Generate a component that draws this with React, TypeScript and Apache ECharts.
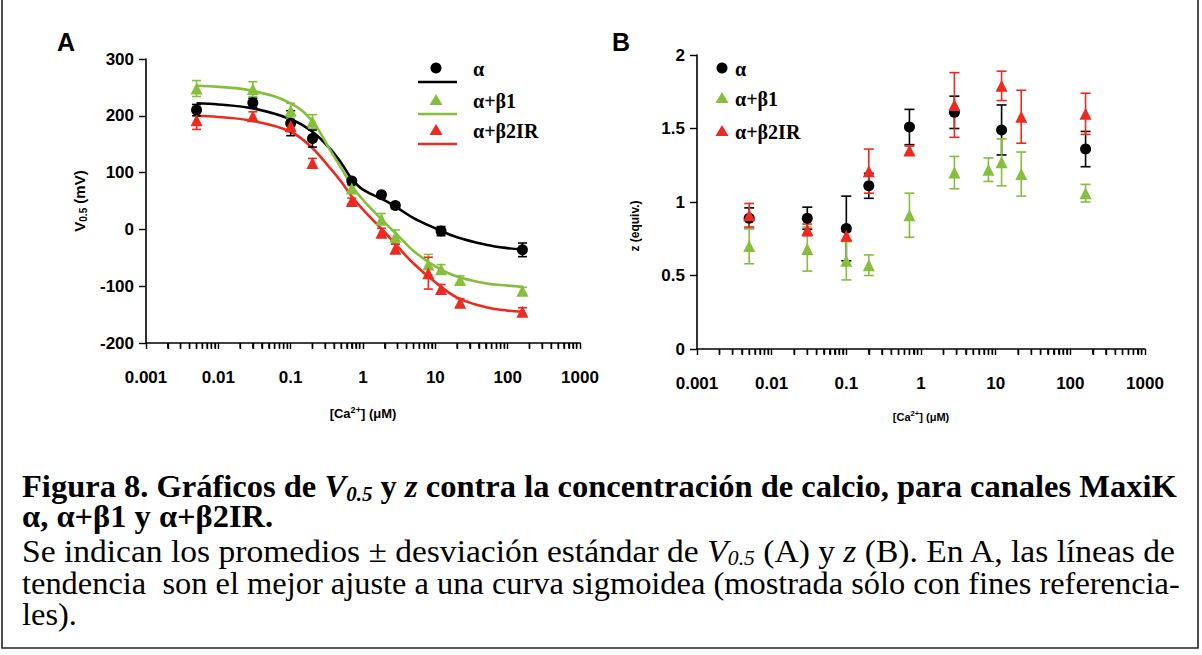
import React, { useEffect, useRef } from "react";
import * as echarts from "echarts";

const BLACK = "#000000";
const GREEN = "#86bf3c";
const RED = "#ee2a20";

// ---------- Panel A: V0.5 (mV) vs [Ca2+] ----------
const concA_alpha = [0.005, 0.03, 0.1, 0.2, 0.7, 1.8, 2.8, 12, 160];
const vA_alpha = [210, 223, 187, 160, 85, 61, 42, -3, -36];
const eA_alpha = [10, 8, 22, 15, 5, 5, 5, 8, 12];

const concA_beta = [0.005, 0.03, 0.1, 0.2, 0.7, 1.8, 2.8, 8, 12, 22, 160];
const vA_beta1 = [248, 247, 209, 190, 72, 18, -13, -62, -70, -89, -108];
const eA_beta1 = [14, 13, 13, 12, 5, 10, 12, 18, 8, 7, 6];
const vA_beta2 = [192, 199, 182, 117, 50, -6, -34, -77, -105, -129, -145];
const eA_beta2 = [16, 8, 10, 8, 5, 8, 8, 28, 8, 7, 7];

// fitted sigmoid trend lines
const curveX = [0.005, 0.01, 0.03, 0.1, 0.2, 0.35, 0.5, 0.7, 1, 2, 3, 5, 10, 20, 50, 100, 160];
const curveAlpha = [222, 220, 213, 194, 172, 142, 117, 89, 70, 51, 38, 20, 2, -14, -27, -33, -35];
const curveBeta1 = [253, 251, 244, 222, 190, 140, 108, 77, 52, 12, -10, -38, -65, -83, -95, -99, -101];
const curveBeta2 = [200, 198, 191, 172, 143, 108, 84, 58, 35, -5, -30, -60, -93, -120, -137, -143, -145];

// ---------- Panel B: z (equiv.) vs [Ca2+] ----------
const concB_alpha = [0.005, 0.03, 0.1, 0.2, 0.7, 2.8, 12, 160];
const zB_alpha = [0.89, 0.89, 0.82, 1.11, 1.51, 1.61, 1.49, 1.36];
const eB_alpha = [0.07, 0.075, 0.22, 0.085, 0.12, 0.11, 0.17, 0.12];

const concB_beta1 = [0.005, 0.03, 0.1, 0.2, 0.7, 2.8, 8, 12, 22, 160];
const zB_beta1 = [0.7, 0.68, 0.6, 0.57, 0.91, 1.2, 1.22, 1.27, 1.19, 1.06];
const eB_beta1 = [0.12, 0.15, 0.13, 0.07, 0.15, 0.11, 0.08, 0.16, 0.15, 0.06];

const concB_beta2 = [0.005, 0.03, 0.1, 0.2, 0.7, 2.8, 12, 22, 160];
const zB_beta2 = [0.91, 0.81, 0.77, 1.21, 1.35, 1.66, 1.79, 1.58, 1.6];
const eB_beta2 = [0.08, 0.04, 0.03, 0.15, 0.03, 0.22, 0.1, 0.18, 0.14];

// ---------- axes ----------
const xTickLabels = ["0.001", "0.01", "0.1", "1", "10", "100", "1000"];
const majorTickValues = [0.001, 0.01, 0.1, 1, 10, 100, 1000];
const minorMultipliers = [2, 3, 4, 5, 6, 7, 8, 9];
const decades = [0.001, 0.01, 0.1, 1, 10, 100];

const seriesNames = ["α", "α+β1", "α+β2IR"];

const SANS = "Liberation Sans";
const SERIF = "Liberation Serif";

const pts = (xs: number[], ys: number[]) => xs.map((x, i) => [x, ys[i]]);
const errPts = (xs: number[], ys: number[], es: number[]) => xs.map((x, i) => [x, ys[i], es[i]]);

const errRender = (cap: number) => (params: any, api: any) => {
  const x = api.value(0);
  const y = api.value(1);
  const e = api.value(2);
  const top = api.coord([x, y + e]);
  const bot = api.coord([x, y - e]);
  const style = { stroke: api.visual("color"), lineWidth: 1.6 };
  return {
    type: "group",
    children: [
      { type: "line", shape: { x1: top[0], y1: top[1], x2: bot[0], y2: bot[1] }, style },
      { type: "line", shape: { x1: top[0] - cap, y1: top[1], x2: top[0] + cap, y2: top[1] }, style },
      { type: "line", shape: { x1: bot[0] - cap, y1: bot[1], x2: bot[0] + cap, y2: bot[1] }, style },
    ],
  };
};

const minorTickRender = (params: any, api: any) => {
  const p = api.coord([api.value(0), api.value(1)]);
  return {
    type: "line",
    shape: { x1: p[0], y1: p[1], x2: p[0], y2: p[1] + 5.5 },
    style: { stroke: "#000000", lineWidth: 1.4 },
  };
};

const minorTickValues: number[] = [];
decades.forEach((d) => minorMultipliers.forEach((m) => minorTickValues.push(m * d)));
const allTickValues = [...majorTickValues, ...minorTickValues].sort((a, b) => a - b);

// ---------- caption ----------
type Seg = [string, string];
const captionLines: { segs: Seg[]; y: number; width: number | null }[] = [
  {
    segs: [
      ["b", "Figura 8. Gráficos de "],
      ["bi", "V"],
      ["bsub", "0.5"],
      ["b", " y "],
      ["bi", "z"],
      ["b", " contra la concentración de calcio, para canales MaxiK"],
    ],
    y: 487,
    width: 1155,
  },
  { segs: [["b", "α, α+β1 y α+β2IR."]], y: 517, width: null },
  {
    segs: [
      ["n", "Se indican los promedios ± desviación estándar de "],
      ["ni", "V"],
      ["nsub", "0.5"],
      ["n", " (A) y "],
      ["ni", "z"],
      ["n", " (B). En A, las líneas de"],
    ],
    y: 551,
    width: 1155,
  },
  {
    segs: [["n", "tendencia  son el mejor ajuste a una curva sigmoidea (mostrada sólo con fines referencia-"]],
    y: 584,
    width: 1158,
  },
  { segs: [["n", "les)."]], y: 615, width: null },
];

const CAP_FS = 31;
const capStyles: Record<string, any> = {
  b: { fontFamily: SERIF, fontWeight: "bold", fontStyle: "normal", fontSize: CAP_FS, lineHeight: 34 },
  bi: { fontFamily: SERIF, fontWeight: "bold", fontStyle: "italic", fontSize: CAP_FS, lineHeight: 34 },
  bsub: { fontFamily: SERIF, fontWeight: "bold", fontStyle: "italic", fontSize: 20, lineHeight: 18, verticalAlign: "bottom" },
  n: { fontFamily: SERIF, fontWeight: "normal", fontStyle: "normal", fontSize: CAP_FS, lineHeight: 34 },
  ni: { fontFamily: SERIF, fontWeight: "normal", fontStyle: "italic", fontSize: CAP_FS, lineHeight: 34 },
  nsub: { fontFamily: SERIF, fontWeight: "normal", fontStyle: "italic", fontSize: 20, lineHeight: 18, verticalAlign: "bottom" },
};

function measureSegs(segs: Seg[]): number {
  const ctx = document.createElement("canvas").getContext("2d");
  if (!ctx) return 1;
  let w = 0;
  segs.forEach(([k, t]) => {
    const s = capStyles[k];
    ctx.font = `${s.fontStyle} ${s.fontWeight} ${s.fontSize}px "${s.fontFamily}"`;
    w += ctx.measureText(t).width;
  });
  return w;
}

function buildCaption(): any[] {
  const rich: Record<string, any> = {};
  Object.keys(capStyles).forEach((k) => (rich[k] = { ...capStyles[k], fill: "#000" }));
  let lastScale = 1;
  return captionLines.map((line) => {
    const natural = measureSegs(line.segs);
    const scale = line.width ? line.width / natural : lastScale;
    lastScale = scale;
    return {
      type: "text",
      x: 22,
      y: line.y,
      scaleX: scale,
      style: {
        text: line.segs.map(([k, t]) => `{${k}|${t}}`).join(""),
        rich,
        align: "left",
        verticalAlign: "middle",
        fill: "#000",
      },
    };
  });
}

function legendGraphics(x0: number, ys: number[], withLines: boolean, textX: number): any[] {
  const colors = [BLACK, GREEN, RED];
  const out: any[] = [];
  ys.forEach((y, i) => {
    const c = colors[i];
    if (i === 0) {
      out.push({ type: "circle", shape: { cx: x0, cy: y, r: 5.5 }, style: { fill: c } });
    } else {
      out.push({
        type: "polygon",
        shape: { points: [[x0, y - 6], [x0 + 6.5, y + 5], [x0 - 6.5, y + 5]] },
        style: { fill: c },
      });
    }
    if (withLines) {
      out.push({
        type: "line",
        shape: { x1: x0 - 18, y1: y + 14, x2: x0 + 21, y2: y + 14 },
        style: { stroke: c, lineWidth: 2.5 },
      });
    }
    out.push({
      type: "text",
      x: textX,
      y: y + 1,
      style: {
        text: seriesNames[i],
        fill: "#000",
        font: `bold 20px "${SERIF}"`,
        align: "left",
        verticalAlign: "middle",
      },
    });
  });
  return out;
}

const axisLineStyle = { color: "#000", width: 1.6 };
const tickLabel = { color: "#000", fontFamily: SANS, fontWeight: "bold" as const, fontSize: 17 };

export default function App() {
  const ref = useRef<HTMLDivElement>(null);

  useEffect(() => {
    if (!ref.current) return;
    const chart = echarts.init(ref.current, undefined, { renderer: "svg" });

    const xFormatter = (v: number) => xTickLabels[Math.round(Math.log10(v)) + 3] ?? "";

    const xAxisBase = (grid: number, nameGap: number, nameSize: number) => ({
      type: "log" as const,
      gridIndex: grid,
      logBase: 10,
      min: 0.001,
      max: 1000,
      splitNumber: 6,
      axisLine: { show: true, onZero: false, lineStyle: axisLineStyle },
      axisTick: {
        show: true,
        length: 6,
        customValues: allTickValues,
        lineStyle: { color: "#000", width: 1.4 },
      },
      axisLabel: {
        ...tickLabel,
        formatter: xFormatter,
        margin: 26,
        showMinLabel: true,
        showMaxLabel: true,
        customValues: majorTickValues,
      },
      splitLine: { show: false },
      name: "{t|[Ca}{sup|2+}{t|] (μM)}",
      nameLocation: "middle" as const,
      nameGap,
      nameTextStyle: {
        rich: {
          t: { fontFamily: SANS, fontWeight: "bold", fontSize: nameSize, lineHeight: 16, color: "#000" },
          sup: { fontFamily: SANS, fontWeight: "bold", fontSize: nameSize * 0.7, lineHeight: 8, verticalAlign: "top", color: "#000" },
        },
      },
    });

    const minorTickSeries = (axis: number, base: number) => ({
      type: "custom",
      name: "minor ticks " + axis,
      xAxisIndex: axis,
      yAxisIndex: axis,
      silent: true,
      clip: false,
      renderItem: minorTickRender,
      itemStyle: { color: "#000" },
      data: minorTickValues.map((v) => [v, base]),
      z: 6,
    });

    const option: any = {
      animation: false,
      backgroundColor: "#ffffff",
      grid: [
        { left: 146, top: 59, width: 434, height: 284 },
        { left: 697, top: 55, width: 448, height: 294 },
      ],
      xAxis: [xAxisBase(0, 62, 13), xAxisBase(1, 60, 11)],
      yAxis: [
        {
          type: "value",
          gridIndex: 0,
          min: -200,
          max: 300,
          interval: 100,
          axisLine: { show: true, onZero: false, lineStyle: axisLineStyle },
          axisTick: { show: true, length: 7, lineStyle: { color: "#000", width: 1.4 } },
          axisLabel: { ...tickLabel, margin: 12 },
          splitLine: { show: false },
          name: "{t|V}{sub|0.5}{t| (mV)}",
          nameLocation: "middle",
          nameRotate: 90,
          nameGap: 58,
          nameTextStyle: {
            rich: {
              t: { fontFamily: SANS, fontWeight: "bold", fontSize: 15, lineHeight: 17, color: "#000" },
              sub: { fontFamily: SANS, fontWeight: "bold", fontSize: 10, lineHeight: 8, verticalAlign: "bottom", color: "#000" },
            },
          },
        },
        {
          type: "value",
          gridIndex: 1,
          min: 0,
          max: 2,
          interval: 0.5,
          axisLine: { show: true, onZero: false, lineStyle: axisLineStyle },
          axisTick: { show: true, length: 7, lineStyle: { color: "#000", width: 1.4 } },
          axisLabel: { ...tickLabel, margin: 12 },
          splitLine: { show: false },
          name: "z (equiv.)",
          nameLocation: "middle",
          nameRotate: 90,
          nameGap: 56,
          nameTextStyle: {
            fontFamily: SANS,
            fontWeight: "bold",
            fontSize: 12,
            color: "#000",
            padding: [0, 48, 0, 0],
          },
        },
      ],
      series: [
        // Panel A trend lines
        ...[
          [curveAlpha, BLACK],
          [curveBeta1, GREEN],
          [curveBeta2, RED],
        ].map(([c, col]: any, i) => ({
          type: "line",
          name: seriesNames[i] + " fit",
          xAxisIndex: 0,
          yAxisIndex: 0,
          data: pts(curveX, c),
          smooth: 0.4,
          symbol: "none",
          lineStyle: { color: col, width: 2.6 },
          z: 2,
        })),
        // Panel A error bars
        ...[
          [concA_alpha, vA_alpha, eA_alpha, BLACK],
          [concA_beta, vA_beta1, eA_beta1, GREEN],
          [concA_beta, vA_beta2, eA_beta2, RED],
        ].map(([x, y, e, col]: any) => ({
          type: "custom",
          xAxisIndex: 0,
          yAxisIndex: 0,
          silent: true,
          renderItem: errRender(4.5),
          itemStyle: { color: col },
          data: errPts(x, y, e),
          z: 3,
        })),
        // Panel A points
        ...[
          [concA_alpha, vA_alpha, BLACK, "circle", 11],
          [concA_beta, vA_beta1, GREEN, "triangle", 12],
          [concA_beta, vA_beta2, RED, "triangle", 12],
        ].map(([x, y, col, sym, size]: any, i) => ({
          type: "scatter",
          name: seriesNames[i],
          xAxisIndex: 0,
          yAxisIndex: 0,
          data: pts(x, y),
          symbol: sym,
          symbolSize: size,
          itemStyle: { color: col, opacity: 1 },
          z: 4,
        })),
        // Panel B error bars
        ...[
          [concB_alpha, zB_alpha, eB_alpha, BLACK],
          [concB_beta1, zB_beta1, eB_beta1, GREEN],
          [concB_beta2, zB_beta2, eB_beta2, RED],
        ].map(([x, y, e, col]: any) => ({
          type: "custom",
          xAxisIndex: 1,
          yAxisIndex: 1,
          silent: true,
          renderItem: errRender(5),
          itemStyle: { color: col },
          data: errPts(x, y, e),
          z: 3,
        })),
        // Panel B points
        ...[
          [concB_alpha, zB_alpha, BLACK, "circle", 11],
          [concB_beta1, zB_beta1, GREEN, "triangle", 12],
          [concB_beta2, zB_beta2, RED, "triangle", 12],
        ].map(([x, y, col, sym, size]: any, i) => ({
          type: "scatter",
          name: seriesNames[i],
          xAxisIndex: 1,
          yAxisIndex: 1,
          data: pts(x, y),
          symbol: sym,
          symbolSize: size,
          itemStyle: { color: col, opacity: 1 },
          z: 4,
        })),
        // minor ticks (2..9 within each decade), drawn through the log axes
        minorTickSeries(0, -200),
        minorTickSeries(1, 0),
      ],
      graphic: [
        {
          type: "rect",
          shape: { x: 2, y: -4, width: 1196, height: 652 },
          style: { fill: "none", stroke: "#222", lineWidth: 1.6 },
          silent: true,
        },
        {
          type: "text",
          x: 66,
          y: 42,
          style: { text: "A", font: `bold 25px "${SANS}"`, fill: "#000", align: "center", verticalAlign: "middle" },
        },
        {
          type: "text",
          x: 621,
          y: 42,
          style: { text: "B", font: `bold 25px "${SANS}"`, fill: "#000", align: "center", verticalAlign: "middle" },
        },
        ...legendGraphics(436, [68, 100, 130], true, 473),
        ...legendGraphics(722, [68, 98, 131], false, 735),
        ...buildCaption(),
      ],
    };

    chart.setOption(option);
    return () => chart.dispose();
  }, []);

  return (
    <div
      ref={ref}
      style={{ position: "fixed", left: 0, top: 0, width: 1202, height: 655, background: "#fff" }}
    />
  );
}
